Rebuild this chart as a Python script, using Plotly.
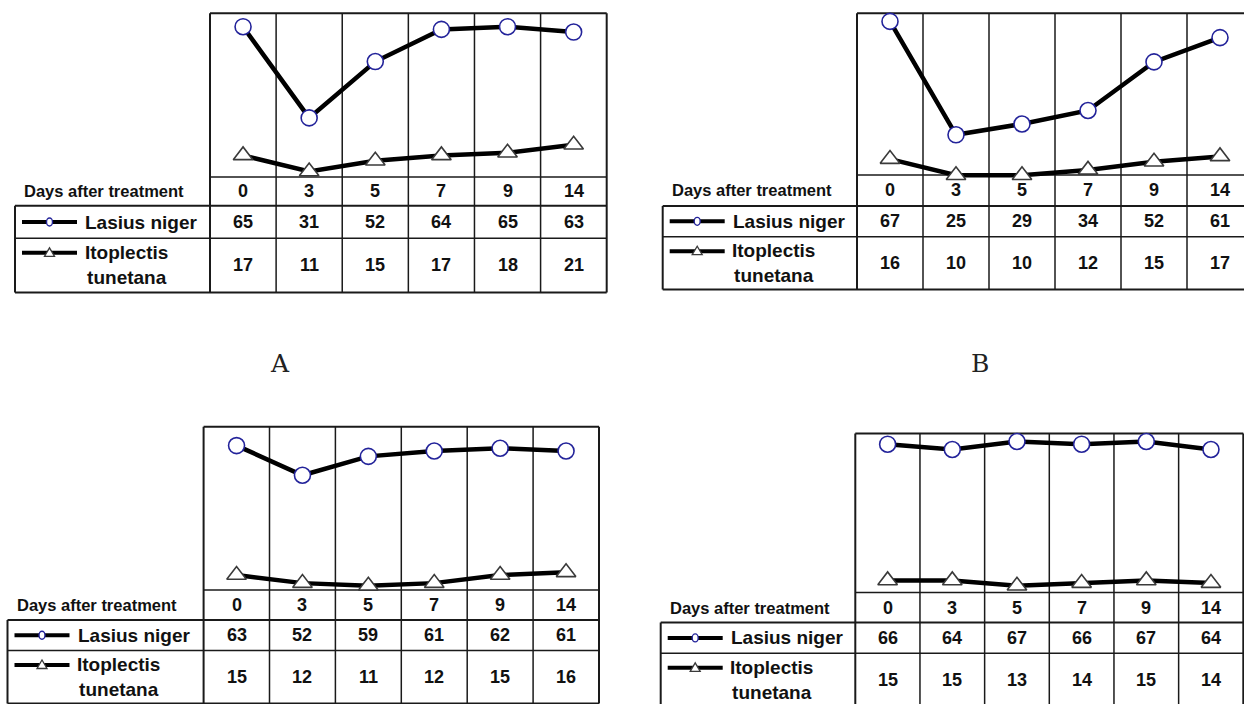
import plotly.graph_objects as go

# ---------------- data ----------------
days = ["0", "3", "5", "7", "9", "14"]
lasius_A = [65, 31, 52, 64, 65, 63]
itoplectis_A = [17, 11, 15, 17, 18, 21]
lasius_B = [67, 25, 29, 34, 52, 61]
itoplectis_B = [16, 10, 10, 12, 15, 17]
lasius_C = [63, 52, 59, 61, 62, 61]
itoplectis_C = [15, 12, 11, 12, 15, 16]
lasius_D = [66, 64, 67, 66, 67, 64]
itoplectis_D = [15, 15, 13, 14, 15, 14]
series_names = ["Lasius niger", "Itoplectis<br>tunetana"]
row_header = "Days after treatment"
panel_labels = ["A", "B"]

# ---------------- layout (pixels) ----------------
W, H = 1244, 704
panels = [
    dict(lasius=lasius_A, ito=itoplectis_A, tbl_left=15, box_left=210, box_right=606.7,
         top=13.3, zero=201, days_top=177, las_top=205.7, ito_top=238.3, bottom=292.5),
    dict(lasius=lasius_B, ito=itoplectis_B, tbl_left=662.7, box_left=857, box_right=1253,
         top=13.3, zero=202.3, days_top=175, las_top=206, ito_top=236.7, bottom=289.5),
    dict(lasius=lasius_C, ito=itoplectis_C, tbl_left=7.5, box_left=203.6, box_right=599,
         top=426.7, zero=615.5, days_top=590, las_top=620, ito_top=650.5, bottom=703.5),
    dict(lasius=lasius_D, ito=itoplectis_D, tbl_left=660.7, box_left=855.3, box_right=1243.3,
         top=433.5, zero=620.5, days_top=592.5, las_top=622.5, ito_top=653.3, bottom=707),
]
label_pos = [(280, 363), (980, 363)]

LINE = "#1a1a1a"
NAVY = "#23239a"
TRI = "#3a3a3a"
FONT = "Liberation Sans"


def px(x):
    return x / W


def py(y):
    return 1 - y / H


fig = go.Figure()
shapes = []
annotations = []
layout_axes = {}

for i, p in enumerate(panels):
    n = i + 1
    xa = "x" if n == 1 else f"x{n}"
    ya = "y" if n == 1 else f"y{n}"
    col_w = (p["box_right"] - p["box_left"]) / len(days)
    vis_right = min(p["box_right"], W)
    layout_axes["xaxis" if n == 1 else f"xaxis{n}"] = dict(
        domain=[px(p["box_left"]), px(vis_right)],
        range=[-0.5, -0.5 + (vis_right - p["box_left"]) / col_w],
        type="category", showgrid=False, zeroline=False, showline=False,
        showticklabels=False, ticks="", anchor=ya, fixedrange=True,
    )
    layout_axes["yaxis" if n == 1 else f"yaxis{n}"] = dict(
        domain=[py(p["zero"]), py(p["top"])], range=[0, 70],
        showgrid=False, zeroline=False, showline=False,
        showticklabels=False, ticks="", anchor=xa, fixedrange=True,
    )

    fig.add_trace(go.Scatter(
        x=days, y=p["lasius"], xaxis=xa, yaxis=ya, mode="lines+markers",
        line=dict(color="black", width=4.5), cliponaxis=False, showlegend=False,
        marker=dict(symbol="circle", size=16, color="white",
                    line=dict(color=NAVY, width=1.6)),
        name="Lasius niger",
    ))
    fig.add_trace(go.Scatter(
        x=days, y=p["ito"], xaxis=xa, yaxis=ya, mode="lines+markers",
        line=dict(color="black", width=4.5), cliponaxis=False, showlegend=False,
        marker=dict(symbol="triangle-up", size=17, color="white",
                    line=dict(color=TRI, width=1.6)),
        name="Itoplectis tunetana",
    ))

    # ---- grid / table lines ----
    def hline(x0, x1, y, w=1.5):
        shapes.append(dict(type="line", xref="paper", yref="paper",
                           x0=px(x0), x1=px(x1), y0=py(y), y1=py(y),
                           line=dict(color=LINE, width=w), layer="below"))

    def vline(x, y0, y1, w=1.5):
        shapes.append(dict(type="line", xref="paper", yref="paper",
                           x0=px(x), x1=px(x), y0=py(y0), y1=py(y1),
                           line=dict(color=LINE, width=w), layer="below"))

    hline(p["box_left"], p["box_right"], p["top"], 2)
    hline(p["box_left"], p["box_right"], p["days_top"])
    hline(p["tbl_left"], p["box_right"], p["las_top"], 2)
    hline(p["tbl_left"], p["box_right"], p["ito_top"])
    hline(p["tbl_left"], p["box_right"], p["bottom"], 2)
    vline(p["tbl_left"], p["las_top"], p["bottom"], 2)
    for k in range(len(days) + 1):
        vline(p["box_left"] + k * col_w, p["top"], p["bottom"], 2 if k in (0, len(days)) else 1.5)

    # ---- table text ----
    days_c = (p["days_top"] + p["las_top"]) / 2
    las_c = (p["las_top"] + p["ito_top"]) / 2
    ito_c = (p["ito_top"] + p["bottom"]) / 2
    annotations.append(dict(text=f"<b>{row_header}</b>", xref="paper", yref="paper",
                            x=px(p["tbl_left"] + 7), y=py(days_c), xanchor="left",
                            yanchor="middle", showarrow=False,
                            font=dict(family=FONT, size=16.5, color="#111")))
    for j, d in enumerate(days):
        annotations.append(dict(text=f"<b>{d}</b>", xref=xa, yref="paper", x=j, y=py(days_c),
                                showarrow=False, yanchor="middle",
                                font=dict(family=FONT, size=18, color="#111")))
        annotations.append(dict(text=f"<b>{p['lasius'][j]}</b>", xref=xa, yref="paper", x=j,
                                y=py(las_c), showarrow=False, yanchor="middle",
                                font=dict(family=FONT, size=18, color="#111")))
        annotations.append(dict(text=f"<b>{p['ito'][j]}</b>", xref=xa, yref="paper", x=j,
                                y=py(ito_c), showarrow=False, yanchor="middle",
                                font=dict(family=FONT, size=18, color="#111")))
    annotations.append(dict(text=f"<b>{series_names[0]}</b>", xref="paper", yref="paper",
                            x=px(p["tbl_left"] + 68), y=py(las_c), xanchor="left",
                            yanchor="middle", showarrow=False,
                            font=dict(family=FONT, size=19, color="#111")))
    annotations.append(dict(text=f"<b>{series_names[1]}</b>", xref="paper", yref="paper",
                            x=px(p["tbl_left"] + 111), y=py(ito_c), xanchor="center",
                            yanchor="middle", align="center", showarrow=False,
                            font=dict(family=FONT, size=19, color="#111")))

    # ---- legend keys inside table ----
    lx0, lx1 = p["tbl_left"] + 7, p["tbl_left"] + 62
    lxc = (lx0 + lx1) / 2
    ly = las_c
    shapes.append(dict(type="line", xref="paper", yref="paper", x0=px(lx0), x1=px(lx1),
                       y0=py(ly), y1=py(ly), line=dict(color="black", width=4)))
    shapes.append(dict(type="circle", xref="paper", yref="paper",
                       x0=px(lxc - 3), x1=px(lxc + 3), y0=py(ly + 4), y1=py(ly - 4),
                       fillcolor="white", line=dict(color=NAVY, width=1.4)))
    ly2 = p["ito_top"] + 14.5
    shapes.append(dict(type="line", xref="paper", yref="paper", x0=px(lx0), x1=px(lx1),
                       y0=py(ly2), y1=py(ly2), line=dict(color="black", width=4)))
    shapes.append(dict(type="path", xref="paper", yref="paper",
                       path=f"M {px(lxc - 5)} {py(ly2 + 3.5)} L {px(lxc + 5)} {py(ly2 + 3.5)} "
                            f"L {px(lxc)} {py(ly2 - 5)} Z",
                       fillcolor="white", line=dict(color=TRI, width=1.3)))

for lab, (lx, ly) in zip(panel_labels, label_pos):
    annotations.append(dict(text=lab, xref="paper", yref="paper", x=px(lx), y=py(ly),
                            showarrow=False, xanchor="center", yanchor="middle",
                            font=dict(family="DejaVu Serif", size=25, color="#222")))

fig.update_layout(
    width=W, height=H, margin=dict(l=0, r=0, t=0, b=0),
    paper_bgcolor="white", plot_bgcolor="rgba(0,0,0,0)",
    shapes=shapes, annotations=annotations, showlegend=False,
    **layout_axes,
)

fig.write_html(
    "out.html",
    config={"displayModeBar": False},
    post_script="document.body.style.margin='0';document.body.style.padding='0';"
                "document.body.style.overflow='hidden';",
)
